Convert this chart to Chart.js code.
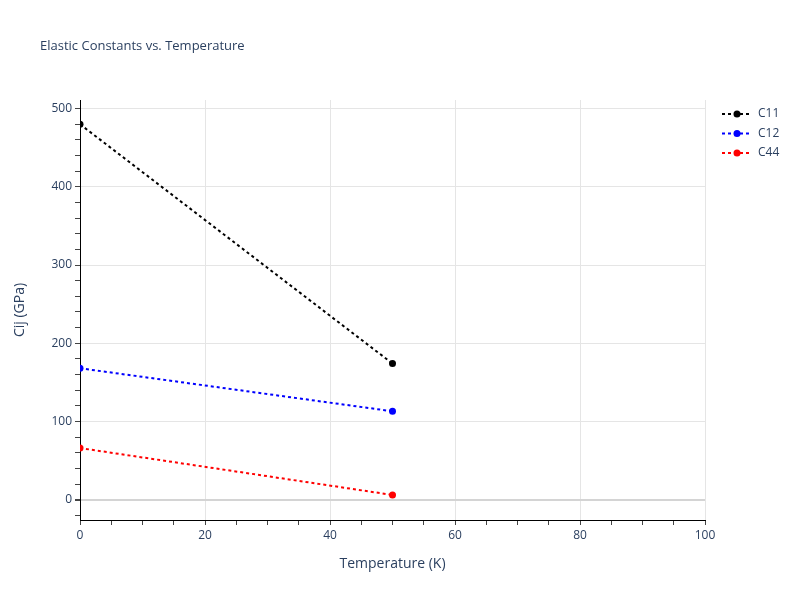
<!DOCTYPE html>
<html>
<head>
<meta charset="utf-8">
<script src="https://cdn.jsdelivr.net/npm/chart.js@4"></script>
<style>
  html, body { margin: 0; padding: 0; background: #fff; }
  #wrap { width: 800px; height: 600px; }
</style>
</head>
<body>
<div id="wrap"><canvas id="elasticChart" width="800" height="600"></canvas></div>
<script>
// values
const temperatures = [0, 50];
const c11 = [480, 174];
const c12 = [168, 113];
const c44 = [66, 6];
const seriesNames = ['C11', 'C12', 'C44'];
const seriesColors = ['#000000', '#0000ff', '#ff0000'];
const xTickValues = [0, 5, 10, 15, 20, 25, 30, 35, 40, 45, 50, 55, 60, 65, 70, 75, 80, 85, 90, 95, 100];
const yTickValues = [-20, 0, 20, 40, 60, 80, 100, 120, 140, 160, 180, 200, 220, 240, 260, 280, 300, 320, 340, 360, 380, 400, 420, 440, 460, 480, 500];

const textColor = '#2a3f5f';
const fontFamily = '"Open Sans", "Noto Sans", sans-serif';

function toPoints(ys) {
    return temperatures.map((t, i) => ({ x: t, y: ys[i] }));
}

const datasets = [c11, c12, c44].map((ys, i) => ({
    label: seriesNames[i],
    data: toPoints(ys),
    borderColor: seriesColors[i],
    backgroundColor: seriesColors[i],
    borderWidth: 2,
    borderDash: [3, 3],
    pointRadius: 3.5,
    pointBorderWidth: 0,
    pointHoverRadius: 3.5,
    fill: false,
    tension: 0
}));

// title + plotly-style legend (dotted line with marker)
const overlay = {
    id: 'overlay',
    afterDraw(chart) {
        const ctx = chart.ctx;
        ctx.save();
        ctx.fillStyle = textColor;
        ctx.font = '13px ' + fontFamily;
        ctx.textAlign = 'left';
        ctx.textBaseline = 'middle';
        ctx.fillText('Elastic Constants vs. Temperature', 40, 46);

        chart.data.datasets.forEach((ds, i) => {
            const y = 114 + i * 19.5;
            ctx.strokeStyle = ds.borderColor;
            ctx.lineWidth = 2;
            ctx.setLineDash([3, 3]);
            ctx.beginPath();
            ctx.moveTo(722, y);
            ctx.lineTo(752, y);
            ctx.stroke();
            ctx.setLineDash([]);
            ctx.fillStyle = ds.backgroundColor;
            ctx.beginPath();
            ctx.arc(737, y, 3.5, 0, Math.PI * 2);
            ctx.fill();
            ctx.fillStyle = textColor;
            ctx.font = '12px ' + fontFamily;
            ctx.fillText(ds.label, 758, y);
        });
        ctx.restore();
    }
};

const chartCtx = document.getElementById('elasticChart').getContext('2d');
const elasticChart = new Chart(chartCtx, {
    type: 'line',
    data: { datasets: datasets },
    options: {
        responsive: false,
        animation: false,
        layout: { padding: { left: 0, right: 95, top: 100, bottom: 0 } },
        plugins: {
            legend: { display: false },
            title: { display: false },
            tooltip: { enabled: false }
        },
        scales: {
            x: {
                type: 'linear',
                min: 0,
                max: 100,
                afterFit(scale) { scale.height = 80; },
                afterBuildTicks(scale) { scale.ticks = xTickValues.map(v => ({ value: v })); },
                border: { color: '#000', width: 1 },
                grid: {
                    color: c => (c.tick && c.tick.value % 20 === 0 && c.tick.value !== 0) ? '#e5e5e5' : 'rgba(0,0,0,0)',
                    lineWidth: 1,
                    tickColor: '#444',
                    tickLength: 5,
                    drawTicks: true
                },
                ticks: {
                    autoSkip: false,
                    maxRotation: 0,
                    color: textColor,
                    font: { family: fontFamily, size: 12 },
                    padding: 3,
                    callback: v => (v % 20 === 0 ? v : '')
                },
                title: {
                    display: true,
                    text: 'Temperature (K)',
                    color: textColor,
                    font: { family: fontFamily, size: 14 },
                    padding: { top: 0, bottom: 28 }
                }
            },
            y: {
                type: 'linear',
                min: -26,
                max: 511,
                afterFit(scale) { scale.width = 80; },
                afterBuildTicks(scale) { scale.ticks = yTickValues.map(v => ({ value: v })); },
                border: { color: '#000', width: 1 },
                grid: {
                    color: c => {
                        if (!c.tick) return 'rgba(0,0,0,0)';
                        if (c.tick.value === 0) return '#d4d4d4';
                        return c.tick.value % 100 === 0 ? '#e5e5e5' : 'rgba(0,0,0,0)';
                    },
                    lineWidth: c => (c.tick && c.tick.value === 0 ? 2 : 1),
                    tickColor: '#444',
                    tickLength: 5,
                    drawTicks: true
                },
                ticks: {
                    autoSkip: false,
                    color: textColor,
                    font: { family: fontFamily, size: 12 },
                    padding: 3,
                    callback: v => (v % 100 === 0 ? v : '')
                },
                title: {
                    display: true,
                    text: 'Cij (GPa)',
                    color: textColor,
                    font: { family: fontFamily, size: 14 },
                    padding: { top: 12, bottom: 12 }
                }
            }
        }
    },
    plugins: [overlay]
});
</script>
</body>
</html>
